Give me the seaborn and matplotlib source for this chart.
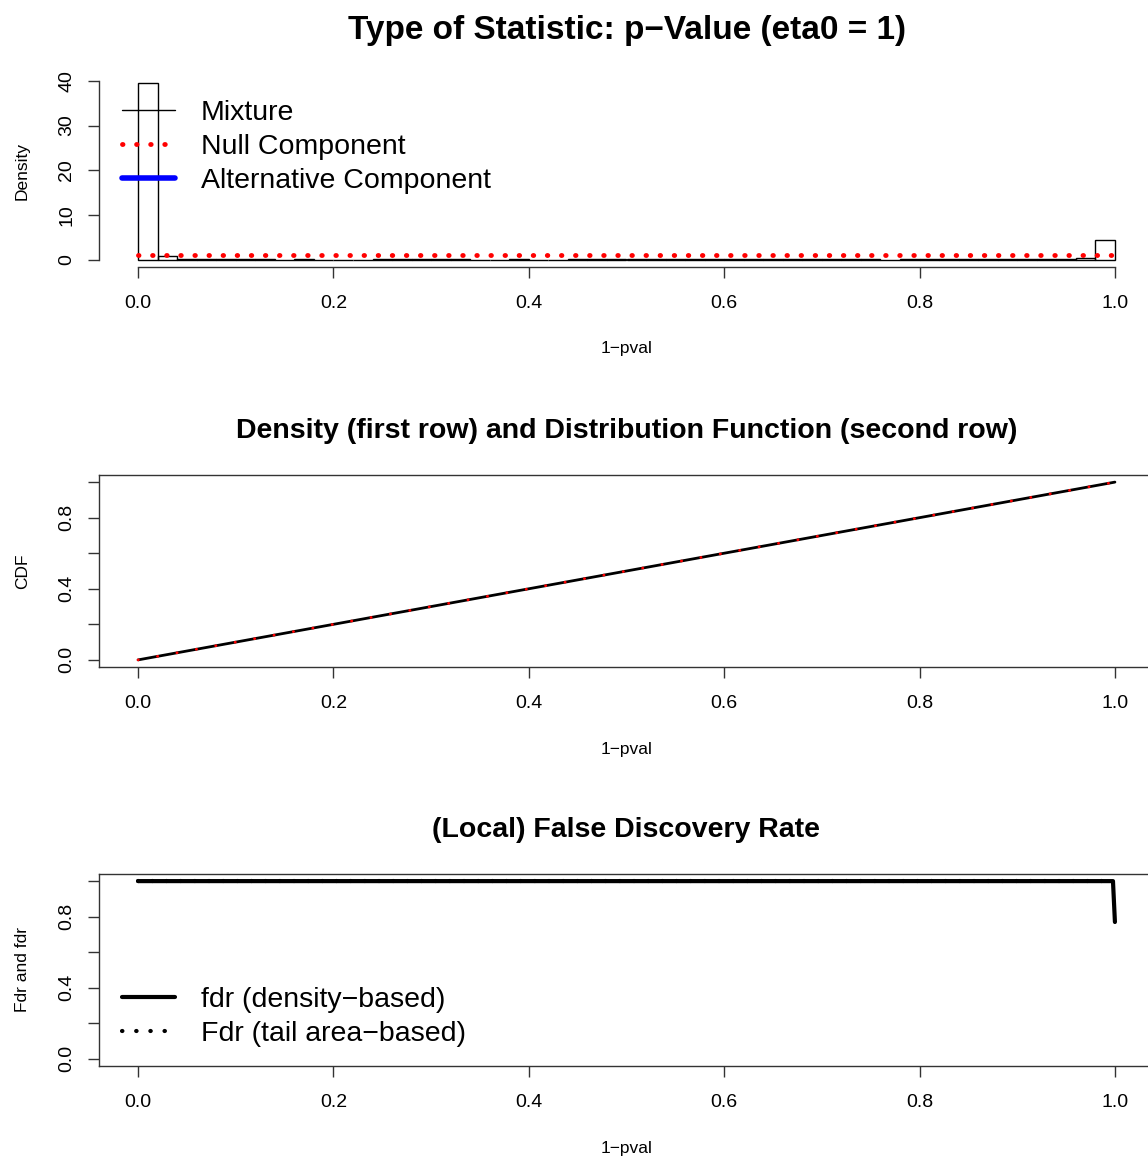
import numpy as np
import pandas as pd
import matplotlib
matplotlib.use("Agg")
import matplotlib.pyplot as plt
import seaborn as sns
from matplotlib.lines import Line2D

# ---------------- data ----------------
hist_density = ([39.5, 0.8] + [0.12] * 5 + [0.0] + [0.12] + [0.0] * 3 + [0.12] * 5
                + [0.0] * 2 + [0.12] + [0.0] * 2 + [0.12] * 16 + [0.0] + [0.12] * 9
                + [0.4, 4.5])
hist_range = [0.0, 1.0]

null_x = [0.0, 1.0]
null_y = [1.0, 1.0]

cdf_x = [0.0, 0.5, 1.0]
cdf_mix = [0.0, 0.5, 1.0]
cdf_null = [0.0, 0.5, 1.0]

fdr_x = [0.0, 0.998, 1.0]
fdr_y = [1.0, 1.0, 0.77]
Fdr_y = [1.0, 1.0, 1.0]

x_ticks = [0.0, 0.2, 0.4, 0.6, 0.8, 1.0]
x_ticklabels = ["0.0", "0.2", "0.4", "0.6", "0.8", "1.0"]
dens_ticks = [0, 10, 20, 30, 40]
dens_ticklabels = ["0", "10", "20", "30", "40"]
p_ticks = [0.0, 0.2, 0.4, 0.6, 0.8, 1.0]
p_ticklabels = ["0.0", "", "0.4", "", "0.8", ""]

main_title = "Type of Statistic: p\u2212Value (eta0 = 1)"
title2 = "Density (first row) and Distribution Function (second row)"
title3 = "(Local) False Discovery Rate"
xlab = "1\u2212pval"
legend1 = ["Mixture", "Null Component", "Alternative Component"]
legend3 = ["fdr (density\u2212based)", "Fdr (tail area\u2212based)"]

# ---------------- style ----------------
sns.set_theme(style="ticks")
plt.rcParams["font.family"] = ["Liberation Sans", "DejaVu Sans"]
plt.rcParams["axes.edgecolor"] = "#333333"
plt.rcParams["axes.linewidth"] = 1.0
plt.rcParams["text.color"] = "black"
plt.rcParams["axes.labelcolor"] = "black"
plt.rcParams["xtick.color"] = "black"
plt.rcParams["ytick.color"] = "black"

W, H = 1148, 1156
fig = plt.figure(figsize=(W / 100, H / 100), dpi=100)

def pos(left, top, right, bottom):
    return [left / W, 1 - bottom / H, (right - left) / W, (bottom - top) / H]

ax1 = fig.add_axes(pos(99, 76, 1154, 267))
ax2 = fig.add_axes(pos(99, 475, 1154, 667))
ax3 = fig.add_axes(pos(99, 874, 1154, 1066))

TICK_FS = 14
LAB_FS = 12.5
LEG_FS = 20.5

def style_axis(ax, yticks, yticklabels, ylabel, box):
    ax.set_xlim(-0.04, 1.04)
    ax.set_xticks(x_ticks)
    ax.set_xticklabels(x_ticklabels)
    ax.set_yticks(yticks)
    ax.set_yticklabels(yticklabels)
    ax.tick_params(axis="both", length=8, width=1, color="#333333",
                   labelsize=TICK_FS, pad=12, direction="out",
                   labelcolor="black")
    ax.tick_params(axis="y", labelrotation=90, pad=9)
    for lab in ax.get_yticklabels():
        lab.set_va("center")
    ax.set_xlabel(xlab, fontsize=LAB_FS)
    ax.xaxis.set_label_coords(0.5, -0.39)
    ax.set_ylabel(ylabel, fontsize=LAB_FS)
    ax.yaxis.set_label_coords(-0.0655, 0.5)
    ax.grid(False)
    if not box:
        ax.spines["top"].set_visible(False)
        ax.spines["right"].set_visible(False)
    else:
        for s in ax.spines.values():
            s.set_visible(True)

# ---------------- panel 1: histogram ----------------
n_bins = len(hist_density)
edges = np.linspace(hist_range[0], hist_range[1], n_bins + 1)
hist_df = pd.DataFrame({"mid": (edges[:-1] + edges[1:]) / 2,
                        "dens": hist_density})
sns.histplot(data=hist_df, x="mid", weights="dens", bins=n_bins,
             binrange=tuple(hist_range), fill=False,
             color="black", linewidth=1.0, ax=ax1)
sns.lineplot(x=null_x, y=null_y, ax=ax1, color="red", lw=3.5)
ln = ax1.lines[-1]
ln.set_linestyle((0, (0.1, 2.8)))
ln.set_dash_capstyle("round")
ax1.set_ylim(-1.58, 41.08)
style_axis(ax1, dens_ticks, dens_ticklabels, "Density", box=False)
ax1.spines["left"].set_bounds(0, 40)
ax1.spines["bottom"].set_bounds(0, 1)

h1 = [Line2D([], [], color="black", lw=1),
      Line2D([], [], color="red", lw=3.5, linestyle=(0, (0.1, 2.8)),
             dash_capstyle="round"),
      Line2D([], [], color="blue", lw=4)]
ax1.legend(h1, legend1, loc="center left", bbox_to_anchor=(0.0218, 0.628),
           frameon=False, fontsize=LEG_FS, handlelength=1.85, handletextpad=0.92,
           labelspacing=0.28, borderpad=0, borderaxespad=0)

# ---------------- panel 2: CDF ----------------
sns.lineplot(x=cdf_x, y=cdf_mix, ax=ax2, color="black", lw=2)
sns.lineplot(x=cdf_x, y=cdf_null, ax=ax2, color="red", lw=2)
ln = ax2.lines[-1]
ln.set_linestyle((0, (0.1, 7)))
ln.set_dash_capstyle("round")
ax2.set_ylim(-0.04, 1.04)
style_axis(ax2, p_ticks, p_ticklabels, "CDF", box=True)

# ---------------- panel 3: fdr ----------------
sns.lineplot(x=fdr_x, y=Fdr_y, ax=ax3, color="black", lw=3)
ln = ax3.lines[-1]
ln.set_linestyle((0, (0.1, 3.3)))
ln.set_dash_capstyle("round")
sns.lineplot(x=fdr_x, y=fdr_y, ax=ax3, color="black", lw=3)
ax3.set_ylim(-0.04, 1.04)
style_axis(ax3, p_ticks, p_ticklabels, "Fdr and fdr", box=True)

h3 = [Line2D([], [], color="black", lw=3),
      Line2D([], [], color="black", lw=3, linestyle=(0, (0.1, 3.3)),
             dash_capstyle="round")]
ax3.legend(h3, legend3, loc="center left", bbox_to_anchor=(0.0218, 0.253),
           frameon=False, fontsize=LEG_FS, handlelength=1.85, handletextpad=0.92,
           labelspacing=0.28, borderpad=0, borderaxespad=0)

# ---------------- titles ----------------
cx = (99 + 1154) / 2 / W
fig.text(cx, 1 - 31 / H, main_title, ha="center", va="center",
         fontsize=24, fontweight="bold")
fig.text(cx, 1 - 431 / H, title2, ha="center", va="center",
         fontsize=20.5, fontweight="bold")
fig.text(cx, 1 - 830 / H, title3, ha="center", va="center",
         fontsize=20.5, fontweight="bold")

fig.savefig("out.png", dpi=100, facecolor="white")
